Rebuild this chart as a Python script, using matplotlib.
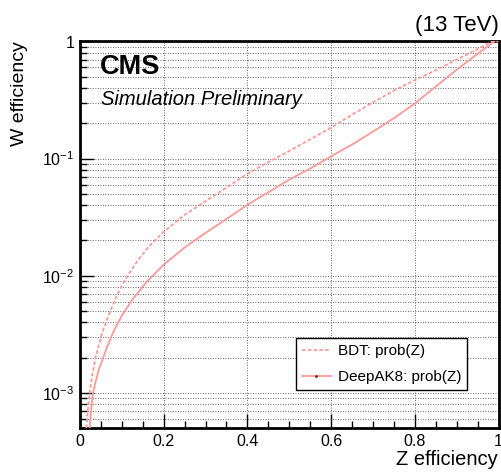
import numpy as np
import matplotlib
matplotlib.use('Agg')
import matplotlib.pyplot as plt
from matplotlib.lines import Line2D
from matplotlib.ticker import MultipleLocator, LogLocator, FuncFormatter, NullFormatter

plt.rcParams['font.family'] = ['Liberation Sans', 'DejaVu Sans']
plt.rcParams['mathtext.fontset'] = 'custom'
plt.rcParams['mathtext.rm'] = 'Liberation Sans'
plt.rcParams['mathtext.it'] = 'Liberation Sans:italic'
plt.rcParams['mathtext.bf'] = 'Liberation Sans:bold'

# Z (signal) efficiency vs W (background) efficiency for the two taggers
bdt_z = [0.015, 0.018, 0.023, 0.029, 0.037, 0.045, 0.053, 0.065, 0.084,
         0.1, 0.119, 0.14, 0.165, 0.2, 0.25, 0.3, 0.4, 0.45, 0.5, 0.55,
         0.6, 0.65, 0.7, 0.75, 0.8, 0.85, 0.9, 0.95, 0.984, 1.0]
bdt_w = [5.0e-4, 6.76e-4, 1.0e-3, 1.41e-3, 1.98e-3, 2.57e-3, 3.24e-3,
         4.27e-3, 6.31e-3, 8.22e-3, 0.0107, 0.0138, 0.0178, 0.0237, 0.0331,
         0.0432, 0.0741, 0.0933, 0.116, 0.146, 0.184, 0.237, 0.302, 0.380,
         0.468, 0.569, 0.700, 0.861, 1.0, 1.0]

deep_z = [0.023, 0.027, 0.031, 0.037, 0.045, 0.055, 0.065, 0.079, 0.1,
          0.126, 0.16, 0.2, 0.25, 0.3, 0.35, 0.4, 0.5, 0.55, 0.6, 0.65,
          0.7, 0.75, 0.8, 0.85, 0.9, 0.95, 0.99]
deep_w = [5.0e-4, 7.41e-4, 1.0e-3, 1.23e-3, 1.58e-3, 1.98e-3, 2.48e-3,
          3.27e-3, 4.57e-3, 6.31e-3, 8.91e-3, 0.01245, 0.01738, 0.0232,
          0.0305, 0.0403, 0.0661, 0.0822, 0.1047, 0.1318, 0.170, 0.2213,
          0.295, 0.412, 0.575, 0.785, 1.0]

labels = ['BDT: prob(Z)', 'DeepAK8: prob(Z)']
line_color = '#ff9999'
bdt_dashes = (2.0, 1.2)

W, H = 501, 473
fig = plt.figure(figsize=(W / 100, H / 100), dpi=100)
ax = fig.add_axes([80 / W, 1 - 428 / H, 418.5 / W, (428 - 41.5) / H])

ax.plot(bdt_z, bdt_w, color=line_color, lw=1.3, dashes=bdt_dashes, zorder=3)
ax.plot(deep_z, deep_w, color=line_color, lw=1.3, zorder=3)

ax.set_yscale('log')
ax.set_xlim(0, 1)
ax.set_ylim(5e-4, 1)

ax.xaxis.set_major_locator(MultipleLocator(0.2))
ax.xaxis.set_minor_locator(MultipleLocator(0.05))
ax.xaxis.set_major_formatter(FuncFormatter(lambda v, p: '%g' % round(v, 2)))
ax.yaxis.set_major_locator(LogLocator(base=10, numticks=10))
ax.yaxis.set_minor_locator(LogLocator(base=10, subs=np.arange(2, 10), numticks=20))
ax.yaxis.set_minor_formatter(NullFormatter())


def log_label(v, pos):
    if v >= 1:
        return '1'
    return r'$10^{%d}$' % int(round(np.log10(v)))


ax.yaxis.set_major_formatter(FuncFormatter(log_label))

ax.tick_params(which='both', direction='in', top=False, right=False,
               width=1.0, labelsize=11.5)
ax.tick_params(which='major', length=10, pad=4)
ax.tick_params(which='minor', length=5)

for s in ax.spines.values():
    s.set_linewidth(2.0)

grid_kw = dict(color='#333333', linestyle=(0, (1, 2)), linewidth=0.6)
ax.grid(which='major', axis='both', **grid_kw)
ax.grid(which='minor', axis='y', **grid_kw)
ax.set_axisbelow(True)

# axis titles at the far end of each axis
fig.text(20 / W, 1 - 41.5 / H, 'W efficiency', rotation=90,
         ha='center', va='top', fontsize=14)
fig.text(498 / W, 1 - 465 / H, 'Z efficiency', ha='right', va='baseline',
         fontsize=14.5)

fig.text(499 / W, 1 - 31 / H, '(13 TeV)', ha='right', va='baseline', fontsize=16)
fig.text(100 / W, 1 - 73.5 / H, 'CMS', ha='left', va='baseline',
         fontsize=19.5, fontweight='bold')
fig.text(101 / W, 1 - 105 / H, 'Simulation Preliminary', ha='left',
         va='baseline', fontsize=14.5, style='italic')

handles = [
    Line2D([], [], color=line_color, lw=1.3, dashes=bdt_dashes),
    Line2D([], [], color=line_color, lw=1.3, marker='.', markersize=2,
           markerfacecolor='#7a2020', markeredgecolor='#7a2020'),
]
leg = ax.legend(handles, labels, loc='upper left',
                bbox_to_anchor=(295.5 / W, 1 - 338 / H),
                bbox_transform=fig.transFigure, borderaxespad=0,
                fontsize=11, handlelength=1.9, handletextpad=0.45,
                labelspacing=0.8, borderpad=0.4, fancybox=False,
                framealpha=1, edgecolor='black')
leg.get_frame().set_linewidth(1.0)
leg.set_zorder(5)

fig.savefig('out.png', dpi=100)
